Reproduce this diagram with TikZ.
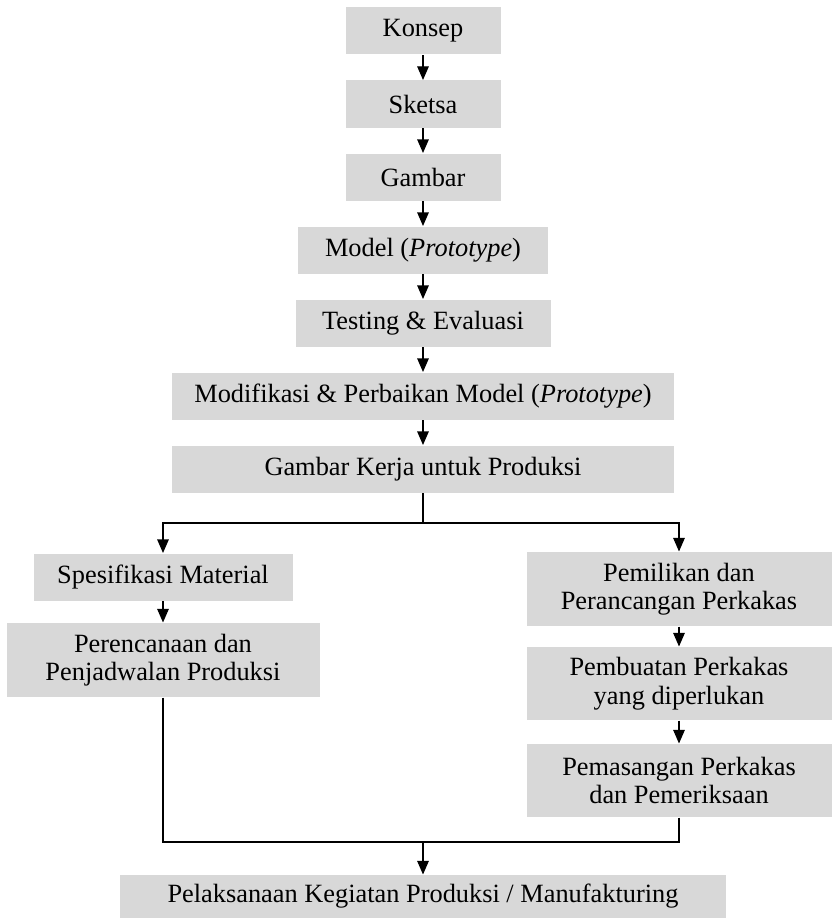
\documentclass[tikz,border=0pt]{standalone}
\usepackage{fontspec}
\setmainfont{Liberation Serif}
\usepackage{xcolor}
\usetikzlibrary{arrows.meta}

\definecolor{boxgray}{RGB}{216,216,216}

\begin{document}
\begin{tikzpicture}[
            > = {Triangle[length=2.7mm, width=2.3mm]}, % arrow head style
            node distance = 1.46cm, % distance between nodes
            line width = 0.6pt % line style
        ]

        \tikzstyle{box}=[
            fill = boxgray,
            minimum height = 0.94cm,
            inner sep = 0pt,
            align = center,
            font = \fontsize{15}{16.2}\selectfont
        ]

        \useasboundingbox (0,0) rectangle (16.62,-18.36);

        % main column
        \node[box, minimum width=3.1cm] (konsep) at (8.46,-0.62) {Konsep};
        \node[box, minimum width=3.1cm] (sketsa) [below of=konsep] {Sketsa};
        \node[box, minimum width=3.1cm] (gambar) [below of=sketsa] {Gambar};
        \node[box, minimum width=5.0cm] (model) [below of=gambar] {Model (\textit{Prototype})};
        \node[box, minimum width=5.1cm] (testing) [below of=model] {Testing \& Evaluasi};
        \node[box, minimum width=10.04cm] (modif) [below of=testing] {Modifikasi \& Perbaikan Model (\textit{Prototype})};
        \node[box, minimum width=10.04cm] (kerja) [below of=modif] {Gambar Kerja untuk Produksi};

        % left branch
        \node[box, minimum width=5.18cm] (spek) [below of=kerja, xshift=-5.2cm, node distance=2.16cm] {Spesifikasi Material};
        \node[box, minimum width=6.26cm, minimum height=1.48cm] (renc) [below of=spek, node distance=1.66cm] {Perencanaan dan\\Penjadwalan Produksi};

        % right branch
        \node[box, minimum width=6.1cm, minimum height=1.48cm] (pilih) [below of=kerja, xshift=5.12cm, node distance=2.4cm] {Pemilikan dan\\Perancangan Perkakas};
        \node[box, minimum width=6.1cm, minimum height=1.46cm] (buat) [below of=pilih, node distance=1.89cm] {Pembuatan Perkakas\\yang diperlukan};
        \node[box, minimum width=6.1cm, minimum height=1.46cm] (pasang) [below of=buat, node distance=1.94cm] {Pemasangan Perkakas\\dan Pemeriksaan};

        \node[box, minimum width=12.12cm, minimum height=0.86cm] (produksi) [below of=kerja, node distance=8.55cm] {Pelaksanaan Kegiatan Produksi / Manufakturing};

        % junction points
        \node[coordinate] (pisah) [below of=kerja, node distance=1.08cm] {};
        \node[coordinate] (gabung) [below of=kerja, node distance=7.46cm] {};

        \draw[->] (konsep) -- (sketsa);
        \draw[->] (sketsa) -- (gambar);
        \draw[->] (gambar) -- (model);
        \draw[->] (model) -- (testing);
        \draw[->] (testing) -- (modif);
        \draw[->] (modif) -- (kerja);

        \draw (kerja) -- (pisah);
        \draw[->] (pisah) -| (spek);
        \draw[->] (pisah) -| (pilih);
        \draw[->] (spek) -- (renc);
        \draw[->] (pilih) -- (buat);
        \draw[->] (buat) -- (pasang);

        \draw (renc) |- (gabung);
        \draw (pasang) |- (gabung);
        \draw[->] (gabung) -- (produksi);
    \end{tikzpicture}
\end{document}
